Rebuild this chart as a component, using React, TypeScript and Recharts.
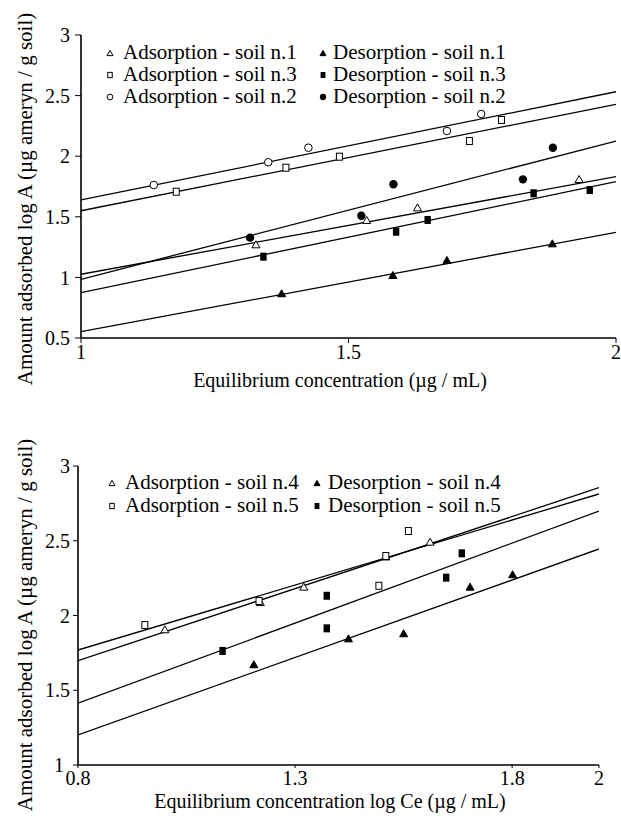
import React from 'react';
import { ScatterChart, Scatter, XAxis, YAxis, Legend, Label } from 'recharts';

type P = { x: number; y: number };

// ---------- Top chart (soils 1, 2, 3) ----------
const topXTicks = [1, 1.5, 2];
const topYTicks = [0.5, 1, 1.5, 2, 2.5, 3];

const adsSoil1: P[] = [
  { x: 1.327, y: 1.273 },
  { x: 1.534, y: 1.474 },
  { x: 1.629, y: 1.578 },
  { x: 1.931, y: 1.812 },
];
const desSoil1: P[] = [
  { x: 1.375, y: 0.869 },
  { x: 1.583, y: 1.02 },
  { x: 1.684, y: 1.144 },
  { x: 1.881, y: 1.281 },
];
const adsSoil3: P[] = [
  { x: 1.178, y: 1.707 },
  { x: 1.383, y: 1.905 },
  { x: 1.483, y: 1.996 },
  { x: 1.726, y: 2.125 },
  { x: 1.786, y: 2.299 },
];
const desSoil3: P[] = [
  { x: 1.341, y: 1.171 },
  { x: 1.589, y: 1.377 },
  { x: 1.648, y: 1.474 },
  { x: 1.846, y: 1.694 },
  { x: 1.951, y: 1.721 },
];
const adsSoil2: P[] = [
  { x: 1.136, y: 1.762 },
  { x: 1.35, y: 1.95 },
  { x: 1.425, y: 2.07 },
  { x: 1.684, y: 2.208 },
  { x: 1.748, y: 2.348 },
];
const desSoil2: P[] = [
  { x: 1.316, y: 1.328 },
  { x: 1.524, y: 1.509 },
  { x: 1.584, y: 1.768 },
  { x: 1.826, y: 1.809 },
  { x: 1.882, y: 2.07 },
];

// trend lines (end points at x = 1 and x = 2)
const fitAdsSoil2: P[] = [{ x: 1, y: 1.639 }, { x: 2, y: 2.532 }];
const fitAdsSoil3: P[] = [{ x: 1, y: 1.55 }, { x: 2, y: 2.428 }];
const fitDesSoil2: P[] = [{ x: 1, y: 0.984 }, { x: 2, y: 2.125 }];
const fitAdsSoil1: P[] = [{ x: 1, y: 1.026 }, { x: 2, y: 1.831 }];
const fitDesSoil3: P[] = [{ x: 1, y: 0.874 }, { x: 2, y: 1.79 }];
const fitDesSoil1: P[] = [{ x: 1, y: 0.552 }, { x: 2, y: 1.372 }];

const topLegendLabels = [
  'Adsorption - soil n.1',
  'Desorption - soil n.1',
  'Adsorption - soil n.3',
  'Desorption - soil n.3',
  'Adsorption - soil n.2',
  'Desorption - soil n.2',
];
const topLegendKinds = ['triOpen', 'triFilled', 'sqOpen', 'sqFilled', 'circOpen', 'circFilled'];

// ---------- Bottom chart (soils 4, 5) ----------
const botXTicks = [0.8, 1.3, 1.8, 2];
const botYTicks = [1, 1.5, 2, 2.5, 3];

const adsSoil4: P[] = [
  { x: 1.0, y: 1.908 },
  { x: 1.22, y: 2.09 },
  { x: 1.32, y: 2.193 },
  { x: 1.509, y: 2.395 },
  { x: 1.611, y: 2.494 },
];
const desSoil4: P[] = [
  { x: 1.205, y: 1.674 },
  { x: 1.423, y: 1.847 },
  { x: 1.55, y: 1.881 },
  { x: 1.703, y: 2.193 },
  { x: 1.801, y: 2.276 },
];
const adsSoil5: P[] = [
  { x: 0.954, y: 1.936 },
  { x: 1.217, y: 2.097 },
  { x: 1.493, y: 2.199 },
  { x: 1.509, y: 2.398 },
  { x: 1.561, y: 2.565 },
];
const desSoil5: P[] = [
  { x: 1.133, y: 1.763 },
  { x: 1.373, y: 1.914 },
  { x: 1.373, y: 2.132 },
  { x: 1.648, y: 2.253 },
  { x: 1.684, y: 2.416 },
];

const fitAdsSoil5: P[] = [{ x: 0.8, y: 1.769 }, { x: 2, y: 2.813 }];
const fitAdsSoil4: P[] = [{ x: 0.8, y: 1.698 }, { x: 2, y: 2.855 }];
const fitDesSoil5: P[] = [{ x: 0.8, y: 1.413 }, { x: 2, y: 2.699 }];
const fitDesSoil4: P[] = [{ x: 0.8, y: 1.201 }, { x: 2, y: 2.445 }];

const botLegendLabels = [
  'Adsorption - soil n.4',
  'Desorption - soil n.4',
  'Adsorption - soil n.5',
  'Desorption - soil n.5',
];
const botLegendKinds = ['triOpen', 'triFilled', 'sqOpen', 'sqFilled'];

const topXTitle = 'Equilibrium concentration (\u00b5g / mL)';
const botXTitle = 'Equilibrium concentration log Ce (\u00b5g / mL)';
const yTitle = 'Amount adsorbed log A (\u00b5g ameryn / g soil)';

// ---------- rendering ----------
const FONT = "'Liberation Serif', 'Times New Roman', serif";

const Mark = ({ kind, cx, cy, k = 1 }: { kind: string; cx: number; cy: number; k?: number }) => {
  if (cx == null || cy == null) return <g />;
  const sw = 1;
  switch (kind) {
    case 'triOpen':
    case 'triFilled': {
      const w = 4 * k;
      const h = 3.5 * k;
      const pts = `${cx},${cy - h} ${cx + w},${cy + h} ${cx - w},${cy + h}`;
      return (
        <polygon
          points={pts}
          fill={kind === 'triFilled' ? '#000' : '#fff'}
          stroke="#000"
          strokeWidth={sw}
        />
      );
    }
    case 'sqOpen':
      return (
        <rect x={cx - 3 * k} y={cy - 3.5 * k} width={6 * k} height={7 * k} fill="#fff" stroke="#000" strokeWidth={sw} />
      );
    case 'sqFilled':
      return <rect x={cx - 3.2 * k} y={cy - 4 * k} width={6.4 * k} height={8 * k} fill="#000" />;
    case 'circOpen':
      return <circle cx={cx} cy={cy} r={3.8 * k} fill="#fff" stroke="#000" strokeWidth={sw} />;
    case 'circFilled':
      return <circle cx={cx} cy={cy} r={4.2 * k} fill="#000" />;
    default:
      return <g />;
  }
};

const shapeOf = (kind: string) => (props: any) => <Mark kind={kind} cx={props.cx} cy={props.cy} />;
const NoShape = () => <g />;

const lineStyle = { stroke: '#000', strokeWidth: 1.3 };

const LegendBox = ({
  labels,
  kinds,
  colMarkX,
  colTextX,
  rowY,
}: {
  labels: string[];
  kinds: string[];
  colMarkX: number[];
  colTextX: number[];
  rowY: number[];
}) => (
  <div style={{ position: 'relative', width: 621, height: 130, fontFamily: FONT, fontSize: 21, color: '#000' }}>
    {labels.map((lab, i) => {
      const col = i % 2;
      const row = Math.floor(i / 2);
      const my = rowY[row];
      return (
        <React.Fragment key={lab}>
          <svg
            width={12}
            height={12}
            style={{ position: 'absolute', left: colMarkX[col] - 6, top: my - 6, overflow: 'visible' }}
          >
            <Mark kind={kinds[i]} cx={6} cy={6} k={0.75} />
          </svg>
          <span
            style={{
              position: 'absolute',
              left: colTextX[col],
              top: my - 11,
              lineHeight: '21px',
              whiteSpace: 'nowrap',
            }}
          >
            {lab}
          </span>
        </React.Fragment>
      );
    })}
  </div>
);

const axisLine = { stroke: '#000', strokeWidth: 1.6 };
const tickStyle = { fill: '#000', fontSize: 20, fontFamily: FONT };

// y tick for the bottom chart: the lowest label is nudged left so it clears the "0.8" x label
const BotYTick = (props: any) => {
  const { x, y, payload } = props;
  const nudge = payload.value === botYTicks[0] ? -6 : 0;
  return (
    <text x={x + nudge} y={y} dy="0.355em" textAnchor="end" fontFamily={FONT} fontSize={20} fill="#000">
      {payload.value}
    </text>
  );
};

const XTitle = (text: string, x: number, y: number) => () => (
  <text x={x} y={y} textAnchor="middle" fontFamily={FONT} fontSize={20} fill="#000">
    {text}
  </text>
);
const YTitle = (text: string, x: number, y: number) => () => (
  <text
    x={x}
    y={y}
    transform={`rotate(-90, ${x}, ${y})`}
    textAnchor="middle"
    dominantBaseline="central"
    fontFamily={FONT}
    fontSize={21}
    fill="#000"
  >
    {text}
  </text>
);

const TopChart = () => (
  <ScatterChart width={621} height={400} margin={{ top: 35, right: 5, bottom: 0, left: 0 }}>
    <XAxis
      xAxisId="b"
      type="number"
      dataKey="x"
      domain={[1, 2]}
      ticks={topXTicks}
      interval={0}
      height={62}
      axisLine={axisLine}
      tickLine={{ stroke: '#000' }}
      tickSize={5}
      tickMargin={2}
      tick={tickStyle}
      allowDataOverflow
    >
      <Label content={XTitle(topXTitle, 340, 387)} />
    </XAxis>
    <XAxis xAxisId="t" orientation="top" type="number" domain={[1, 2]} height={0} tick={false} tickLine={false} axisLine={{ stroke: '#000', strokeWidth: 1.2 }} />
    <YAxis
      yAxisId="l"
      type="number"
      dataKey="y"
      domain={[0.5, 3]}
      ticks={topYTicks}
      interval={0}
      width={81}
      axisLine={axisLine}
      tickLine={{ stroke: '#000' }}
      tickSize={6}
      tickMargin={5}
      tick={tickStyle}
      allowDataOverflow
    >
      <Label content={YTitle(yTitle, 25, 199)} />
    </YAxis>
    <YAxis yAxisId="r" orientation="right" type="number" domain={[0.5, 3]} width={0} tick={false} tickLine={false} axisLine={{ stroke: '#000', strokeWidth: 1.2 }} />
    <Legend
      layout="vertical"
      align="center"
      verticalAlign="middle"
      wrapperStyle={{ left: 0, top: 0, width: 621, height: 130 }}
      content={() => (
        <LegendBox
          labels={topLegendLabels}
          kinds={topLegendKinds}
          colMarkX={[110, 323]}
          colTextX={[123, 333]}
          rowY={[53, 75, 97]}
        />
      )}
    />
    {[fitAdsSoil2, fitAdsSoil3, fitDesSoil2, fitAdsSoil1, fitDesSoil3, fitDesSoil1].map((d, i) => (
      <Scatter
        key={'tf' + i}
        xAxisId="b"
        yAxisId="l"
        data={d}
        line={lineStyle}
        shape={NoShape}
        legendType="none"
        isAnimationActive={false}
      />
    ))}
    <Scatter xAxisId="b" yAxisId="l" data={adsSoil1} shape={shapeOf('triOpen')} isAnimationActive={false} />
    <Scatter xAxisId="b" yAxisId="l" data={desSoil1} shape={shapeOf('triFilled')} isAnimationActive={false} />
    <Scatter xAxisId="b" yAxisId="l" data={adsSoil3} shape={shapeOf('sqOpen')} isAnimationActive={false} />
    <Scatter xAxisId="b" yAxisId="l" data={desSoil3} shape={shapeOf('sqFilled')} isAnimationActive={false} />
    <Scatter xAxisId="b" yAxisId="l" data={adsSoil2} shape={shapeOf('circOpen')} isAnimationActive={false} />
    <Scatter xAxisId="b" yAxisId="l" data={desSoil2} shape={shapeOf('circFilled')} isAnimationActive={false} />
  </ScatterChart>
);

const BottomChart = () => (
  <ScatterChart width={621} height={396} margin={{ top: 46, right: 22, bottom: 0, left: 0 }}>
    <XAxis
      xAxisId="b"
      type="number"
      dataKey="x"
      domain={[0.8, 2]}
      ticks={botXTicks}
      interval={0}
      height={51}
      axisLine={axisLine}
      tickLine={{ stroke: '#000' }}
      tickSize={3}
      tickMargin={3}
      tick={tickStyle}
      allowDataOverflow
    >
      <Label content={XTitle(botXTitle, 330, 388)} />
    </XAxis>
    <XAxis xAxisId="t" orientation="top" type="number" domain={[0.8, 2]} height={0} tick={false} tickLine={false} axisLine={{ stroke: '#000', strokeWidth: 1.2 }} />
    <YAxis
      yAxisId="l"
      type="number"
      dataKey="y"
      domain={[1, 3]}
      ticks={botYTicks}
      interval={0}
      width={78}
      axisLine={axisLine}
      tickLine={{ stroke: '#000' }}
      tickSize={5}
      tickMargin={3}
      tick={BotYTick}
      allowDataOverflow
    >
      <Label content={YTitle(yTitle, 25, 205)} />
    </YAxis>
    <YAxis yAxisId="r" orientation="right" type="number" domain={[1, 3]} width={0} tick={false} tickLine={false} axisLine={{ stroke: '#000', strokeWidth: 1.2 }} />
    <Legend
      layout="vertical"
      align="center"
      verticalAlign="middle"
      wrapperStyle={{ left: 0, top: 0, width: 621, height: 130 }}
      content={() => (
        <LegendBox
          labels={botLegendLabels}
          kinds={botLegendKinds}
          colMarkX={[112, 317]}
          colTextX={[125, 328]}
          rowY={[63, 86]}
        />
      )}
    />
    {[fitAdsSoil5, fitAdsSoil4, fitDesSoil5, fitDesSoil4].map((d, i) => (
      <Scatter
        key={'bf' + i}
        xAxisId="b"
        yAxisId="l"
        data={d}
        line={lineStyle}
        shape={NoShape}
        legendType="none"
        isAnimationActive={false}
      />
    ))}
    <Scatter xAxisId="b" yAxisId="l" data={adsSoil4} shape={shapeOf('triOpen')} isAnimationActive={false} />
    <Scatter xAxisId="b" yAxisId="l" data={desSoil4} shape={shapeOf('triFilled')} isAnimationActive={false} />
    <Scatter xAxisId="b" yAxisId="l" data={adsSoil5} shape={shapeOf('sqOpen')} isAnimationActive={false} />
    <Scatter xAxisId="b" yAxisId="l" data={desSoil5} shape={shapeOf('sqFilled')} isAnimationActive={false} />
  </ScatterChart>
);

export default function App() {
  return (
    <div style={{ position: 'absolute', left: 0, top: 0, width: 621, height: 816, background: '#fff', overflow: 'hidden' }}>
      <div style={{ position: 'absolute', left: 0, top: 0 }}>
        <TopChart />
      </div>
      <div style={{ position: 'absolute', left: 0, top: 420 }}>
        <BottomChart />
      </div>
    </div>
  );
}
